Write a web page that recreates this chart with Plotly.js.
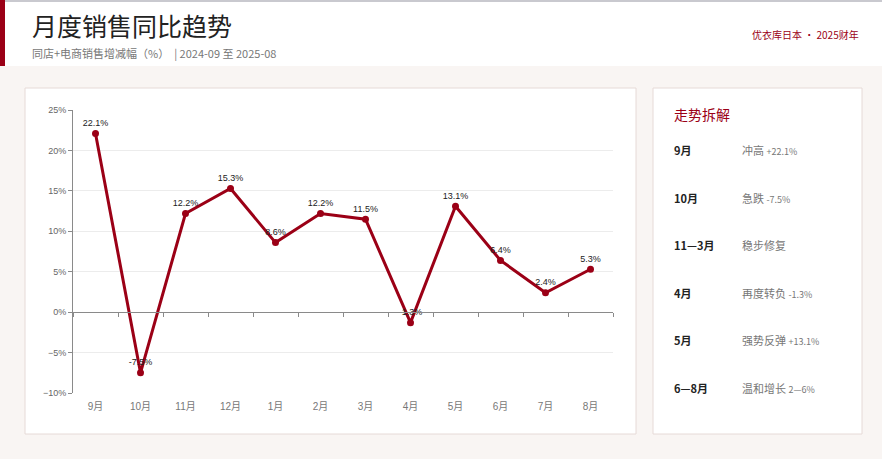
<!DOCTYPE html>
<html>
<head>
<meta charset="utf-8">
<script src="https://cdn.plot.ly/plotly-3.0.1.min.js"></script>
<style>
  html, body { margin: 0; padding: 0; background: #f9f5f3; }
  #chart { width: 882px; height: 459px; }
</style>
</head>
<body>
<div id="chart"></div>
<script>
// ── Data ──────────────────────────────────────────────────────────────────────
const months = ['9月', '10月', '11月', '12月', '1月', '2月', '3月', '4月', '5月', '6月', '7月', '8月'];
const yoy    = [22.1, -7.5, 12.2, 15.3, 8.6, 12.2, 11.5, -1.3, 13.1, 6.4, 2.4, 5.3];

const panelPeriods = ['9月', '10月', '11—3月', '4月', '5月', '6—8月'];
const panelNotes   = ['冲高', '急跌', '稳步修复', '再度转负', '强势反弹', '温和增长'];
const panelValues  = ['+22.1%', '-7.5%', '', '-1.3%', '+13.1%', '2—6%'];

// ── Page geometry (pixels -> paper fractions) ─────────────────────────────────
const W = 882, H = 459;
const px = x => x / W;
const py = y => 1 - y / H;

const RED  = '#9b0016';
const FONT = "'Noto Sans CJK SC', 'Noto Sans', sans-serif";
const NUM_FONT = "'Liberation Sans', 'Noto Sans CJK SC', sans-serif";
const Y_RANGE = [-10, 25];

const plotTop = 110, plotBottom = 393;
const yDomain = [py(plotBottom), py(plotTop)];
const zeroPos = yDomain[0] + (0 - Y_RANGE[0]) / (Y_RANGE[1] - Y_RANGE[0]) * (yDomain[1] - yDomain[0]);

// ── Traces ────────────────────────────────────────────────────────────────────
const line = {
  type: 'scatter', mode: 'lines+markers+text',
  x: months, y: yoy,
  text: yoy.map(v => v.toFixed(1) + '%'),
  textposition: 'top center',
  textfont: { family: NUM_FONT, size: 9, color: '#222' },
  line: { color: RED, width: 3 },
  marker: { color: RED, size: 7 },
  hovertemplate: '%{x}: %{y:.1f}%<extra></extra>',
  cliponaxis: false,
};

// invisible trace that carries the zero-line axis (ticks on category boundaries)
const zeroAxisCarrier = {
  type: 'scatter', mode: 'markers',
  x: months, y: yoy, xaxis: 'x2',
  marker: { opacity: 0 }, hoverinfo: 'skip', showlegend: false,
};

// ── Decoration: header, cards ─────────────────────────────────────────────────
const shapes = [
  { type: 'rect', xref: 'paper', yref: 'paper', x0: 0, x1: 1, y0: py(66), y1: 1,
    fillcolor: '#ffffff', line: { width: 0 }, layer: 'below' },
  { type: 'line', xref: 'paper', yref: 'paper', x0: 0, x1: 1, y0: py(1), y1: py(1),
    line: { color: '#c9c9cf', width: 2 }, layer: 'below' },
  { type: 'rect', xref: 'paper', yref: 'paper', x0: 0, x1: px(5), y0: py(66), y1: 1,
    fillcolor: RED, line: { width: 0 }, layer: 'below' },
  { type: 'rect', xref: 'paper', yref: 'paper', x0: px(25), x1: px(636), y0: py(434), y1: py(88),
    fillcolor: '#ffffff', line: { color: '#e6dad7', width: 1 }, layer: 'below' },
  { type: 'rect', xref: 'paper', yref: 'paper', x0: px(653), x1: px(862), y0: py(434), y1: py(88),
    fillcolor: '#ffffff', line: { color: '#e6dad7', width: 1 }, layer: 'below' },
];

const annotations = [
  { text: '月度销售同比趋势', x: px(30), y: py(25), xanchor: 'left', yanchor: 'middle',
    font: { family: FONT, size: 25, color: '#222' } },
  { text: '同店+电商销售增减幅（%）  | 2024-09 至 2025-08', x: px(30), y: py(53), xanchor: 'left', yanchor: 'middle',
    font: { family: FONT, size: 11, color: '#777' } },
  { text: '优衣库日本 · 2025财年', x: px(861), y: py(34), xanchor: 'right', yanchor: 'middle',
    font: { family: FONT, size: 10, color: RED } },
  { text: '走势拆解', x: px(672), y: py(114), xanchor: 'left', yanchor: 'middle',
    font: { family: FONT, size: 14, color: RED } },
];

const rowY = [150, 198, 245, 293, 340, 388];
panelPeriods.forEach((p, i) => {
  annotations.push({
    text: '<b>' + p + '</b>', x: px(672), y: py(rowY[i]), xanchor: 'left', yanchor: 'middle',
    font: { family: FONT, size: 11, color: '#222' },
  });
  const val = panelValues[i] ? ' <span style="font-size:9px">' + panelValues[i] + '</span>' : '';
  annotations.push({
    text: panelNotes[i] + val, x: px(740), y: py(rowY[i]), xanchor: 'left', yanchor: 'middle',
    font: { family: FONT, size: 11, color: '#777' },
  });
});
annotations.forEach(a => { a.xref = 'paper'; a.yref = 'paper'; a.showarrow = false; });

// ── Layout ────────────────────────────────────────────────────────────────────
const layout = {
  width: W, height: H,
  margin: { l: 0, r: 0, t: 0, b: 0 },
  paper_bgcolor: '#f9f5f3',
  plot_bgcolor: 'rgba(0,0,0,0)',
  showlegend: false,
  font: { family: FONT },
  xaxis: {
    domain: [px(73), px(613)],
    type: 'category', categoryarray: months, range: [-0.5, 11.5],
    showline: false, showgrid: false, zeroline: false, ticks: '',
    tickfont: { family: NUM_FONT, size: 10, color: '#777' },
    ticklabelstandoff: 6,
    fixedrange: true,
  },
  xaxis2: {
    overlaying: 'x', anchor: 'free', position: zeroPos,
    type: 'category', categoryarray: months, range: [-0.5, 11.5],
    showline: true, linecolor: '#8a8a8a', linewidth: 1,
    tickson: 'boundaries', ticks: 'outside', ticklen: 4, tickcolor: '#8a8a8a',
    showticklabels: false, showgrid: false, zeroline: false,
    fixedrange: true,
  },
  yaxis: {
    domain: yDomain, range: Y_RANGE, dtick: 5, ticksuffix: '%',
    showline: true, linecolor: '#8a8a8a', linewidth: 1,
    ticks: 'outside', ticklen: 4, tickcolor: '#8a8a8a',
    gridcolor: '#ececec', zeroline: false,
    tickfont: { family: NUM_FONT, size: 9, color: '#666' },
    fixedrange: true,
  },
  shapes, annotations,
};

Plotly.newPlot('chart', [line, zeroAxisCarrier], layout, { displayModeBar: false });
</script>
</body>
</html>
